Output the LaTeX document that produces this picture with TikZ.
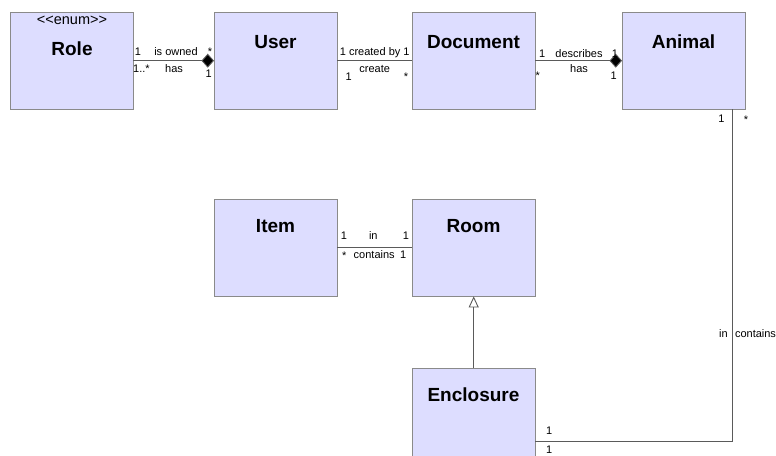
\documentclass[tikz,border=0pt]{standalone}
\usepackage{fontspec}
\setmainfont{Liberation Sans}[Ligatures=TeXOff]
\usetikzlibrary{arrows.meta,positioning}
\definecolor{classfill}{HTML}{DDDDFF}
\definecolor{classline}{HTML}{8A8A8A}
\definecolor{assocline}{HTML}{5A5A5A}

\tikzset{
  classbox/.style={draw=classline,fill=classfill,anchor=north west,inner sep=0pt,
    minimum width=123pt,minimum height=97pt},
  classname/.style={font=\fontsize{19}{21}\selectfont\bfseries},
  mult/.style={font=\fontsize{11}{13}\selectfont,anchor=base,inner sep=0pt},
  assoc/.style={draw=assocline,line width=0.9pt},
  owner/.style={-{Diamond[length=12.5pt,width=14pt,fill=black]}},
}

\begin{document}
\begin{tikzpicture}[x=1pt,y=-1pt]
  \clip (0,0) rectangle (776,455);
  \fill[white] (0,0) rectangle (776,455);

  % Classes
  \node[classbox] (role) at (10,12) {};
  \node[classbox] (user) at (214,12) {};
  \node[classbox] (document) at (412,12) {};
  \node[classbox] (animal) at (622,12) {};
  \node[classbox] (item) at (214,199) {};
  \node[classbox] (room) at (412,199) {};
  \node[classbox] (enclosure) at (412,368) {};

  % Class names
  \node[font=\fontsize{14.5}{16}\selectfont] (rolestereo) at (72,20) {<<enum>>};
  \node[classname] (rolename) at (72,49) {Role};
  \node[classname] (username) at (275.5,42) {User};
  \node[classname] (documentname) at (473.5,42) {Document};
  \node[classname] (animalname) at (683.5,42) {Animal};
  \node[classname] (itemname) at (275.5,226) {Item};
  \node[classname] (roomname) at (473.5,226) {Room};
  \node[classname] (enclosurename) at (473.5,395) {Enclosure};

  % Role -- User
  \draw[assoc,owner] (role.east) -- (user.west);
  \node[mult] (ru1) at (138,55) {1};
  \node[mult] (ru2) at (176,55) {is owned};
  \node[mult] (ru3) at (210,55) {*};
  \node[mult] (ru4) at (141.5,72) {1..*};
  \node[mult] (ru5) at (174,72) {has};
  \node[mult] (ru6) at (208.7,77) {1};

  % User -- Document
  \draw[assoc] (user.east) -- (document.west);
  \node[mult] (ud1) at (374.7,55) {1 created by 1};
  \node[mult] (ud2) at (348.7,80) {1};
  \node[mult] (ud3) at (374.7,72) {create};
  \node[mult] (ud4) at (406,80) {*};

  % Document -- Animal
  \draw[assoc,owner] (document.east) -- (animal.west);
  \node[mult] (da1) at (542.3,57) {1};
  \node[mult] (da2) at (579,57) {describes};
  \node[mult] (da3) at (615,57) {1};
  \node[mult] (da4) at (537.7,79) {*};
  \node[mult] (da5) at (579,72) {has};
  \node[mult] (da6) at (613.7,79) {1};

  % Item -- Room
  \draw[assoc] (item.east) -- (room.west);
  \node[mult] (ir1) at (344,239) {1};
  \node[mult] (ir2) at (373.3,239) {in};
  \node[mult] (ir3) at (406,239) {1};
  \node[mult] (ir4) at (344.3,259) {*};
  \node[mult] (ir5) at (374.2,258) {contains};
  \node[mult] (ir6) at (403.3,258) {1};

  % Enclosure is a Room
  \draw[assoc,-{Triangle[open,length=11pt,width=10pt,fill=white]}] (enclosure.north) -- (room.south);

  % Animal -- Enclosure
  \coordinate (bend) at (732,441);
  \draw[assoc] (animal.south -| bend) -- (bend) -- (enclosure.east |- bend);
  \node[mult] (ae1) at (721.3,122) {1};
  \node[mult] (ae2) at (746,123) {*};
  \node[mult] (ae3) at (723.5,337) {in};
  \node[mult] (ae4) at (755.5,337) {contains};
  \node[mult] (ae5) at (549.3,434) {1};
  \node[mult] (ae6) at (549.3,453.5) {1};
\end{tikzpicture}
\end{document}
